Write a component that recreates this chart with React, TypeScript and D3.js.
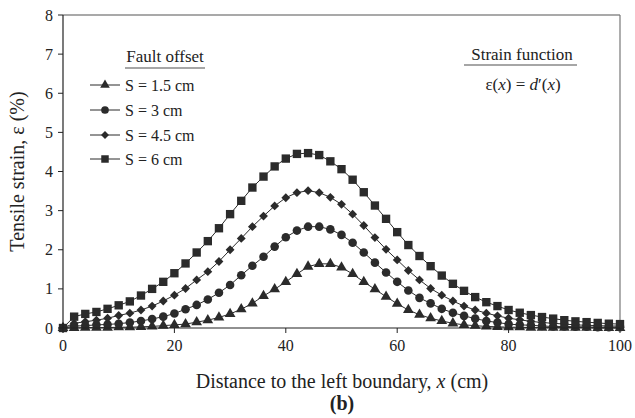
import React from "react";
import * as d3 from "d3";

const xValues = [0,2,4,6,8,10,12,14,16,18,20,22,24,26,28,30,32,34,36,38,40,42,44,46,48,50,52,54,56,58,60,62,64,66,68,70,72,74,76,78,80,82,84,86,88,90,92,94,96,98,100];

const s15 = [0,0.00,0.01,0.01,0.01,0.02,0.02,0.03,0.04,0.06,0.08,0.10,0.15,0.20,0.27,0.36,0.48,0.63,0.82,0.99,1.18,1.38,1.57,1.64,1.64,1.55,1.38,1.18,0.99,0.80,0.62,0.46,0.34,0.25,0.18,0.12,0.08,0.06,0.04,0.03,0.02,0.02,0.01,0.01,0.01,0.01,0.01,0.01,0.00,0.00,0.00];
const s3 = [0,0.05,0.06,0.08,0.09,0.11,0.14,0.18,0.23,0.29,0.37,0.48,0.59,0.73,0.90,1.10,1.35,1.59,1.82,2.08,2.32,2.49,2.59,2.59,2.52,2.38,2.18,1.93,1.67,1.42,1.18,0.96,0.77,0.63,0.49,0.39,0.31,0.24,0.18,0.14,0.10,0.08,0.07,0.05,0.04,0.04,0.03,0.03,0.02,0.02,0.02];
const s45 = [0,0.12,0.16,0.20,0.25,0.32,0.38,0.46,0.56,0.69,0.84,1.01,1.23,1.44,1.70,2.00,2.29,2.59,2.86,3.12,3.33,3.46,3.51,3.46,3.34,3.16,2.91,2.62,2.31,2.01,1.74,1.47,1.23,1.01,0.84,0.69,0.56,0.46,0.38,0.31,0.25,0.21,0.17,0.14,0.12,0.10,0.08,0.07,0.06,0.05,0.05];
const s6 = [0,0.29,0.36,0.41,0.49,0.58,0.68,0.83,1.00,1.18,1.40,1.65,1.93,2.22,2.55,2.91,3.25,3.59,3.87,4.13,4.33,4.45,4.47,4.42,4.26,4.06,3.79,3.47,3.13,2.79,2.45,2.12,1.84,1.58,1.34,1.13,0.95,0.79,0.66,0.56,0.46,0.39,0.33,0.28,0.24,0.20,0.17,0.15,0.13,0.11,0.10];

const seriesLabels = ["S = 1.5 cm", "S = 3 cm", "S = 4.5 cm", "S = 6 cm"];
const seriesValues = [s15, s3, s45, s6];
const xTicks = [0, 20, 40, 60, 80, 100];
const yTicks = [0, 1, 2, 3, 4, 5, 6, 7, 8];

const W = 635, H = 418;
const left = 63, right = 620, top = 15, bottom = 328;
const FONT = "'Liberation Serif', 'Times New Roman', serif";
const INK = "#2b2b2b";

const symbols = [
  { type: d3.symbolTriangle, size: 50 },
  { type: d3.symbolCircle, size: 58 },
  { type: d3.symbolDiamond2, size: 50 },
  { type: d3.symbolSquare, size: 70 },
];

export default function App() {
  const x = d3.scaleLinear().domain([0, 100]).range([left, right]);
  const y = d3.scaleLinear().domain([0, 8]).range([bottom, top]);
  const line = d3.line<number>().x((_, i) => x(xValues[i])).y((v) => y(v));

  const legendX0 = 90, legendX1 = 120, legendTextX = 125;
  const legendYs = [85, 110, 135, 159];

  return (
    <svg width={W} height={H} style={{ position: "absolute", left: 0, top: 0, background: "#fff" }} fontFamily={FONT}>
      {/* frame */}
      <line x1={left} x2={right} y1={top} y2={top} stroke="#555" strokeWidth={1.2} />
      <line x1={right} x2={right} y1={top} y2={bottom} stroke="#777" strokeWidth={1.2} />
      {/* series */}
      {seriesValues.map((vals, si) => {
        const sym = d3.symbol().type(symbols[si].type).size(symbols[si].size)();
        return (
          <g key={si}>
            <path d={line(vals) || ""} fill="none" stroke={INK} strokeWidth={1} />
            {vals.map((v, i) => (
              <path key={i} d={sym || ""} transform={`translate(${x(xValues[i])},${y(v)})`} fill={INK} />
            ))}
          </g>
        );
      })}
      {/* axes */}
      <line x1={left} x2={left} y1={top} y2={bottom} stroke="#222" strokeWidth={1.2} />
      <line x1={left} x2={right} y1={bottom} y2={bottom} stroke="#222" strokeWidth={1.2} />
      {yTicks.map((t) => (
        <g key={t}>
          <line x1={left - 5} x2={left} y1={y(t)} y2={y(t)} stroke="#222" />
          <text x={left - 10} y={y(t)} dy="0.35em" textAnchor="end" fontSize={16} fill="#222">{t}</text>
        </g>
      ))}
      {xTicks.map((t) => (
        <g key={t}>
          <line x1={x(t)} x2={x(t)} y1={bottom} y2={bottom + 5} stroke="#222" />
          <text x={x(t)} y={351} textAnchor="middle" fontSize={16} fill="#222">{t}</text>
        </g>
      ))}
      {/* axis titles */}
      <text transform={`translate(24,${(top + bottom) / 2}) rotate(-90)`} textAnchor="middle" fontSize={20} fill="#222">
        Tensile strain, ε (%)
      </text>
      <text x={342} y={388} textAnchor="middle" fontSize={20} fill="#222">
        Distance to the left boundary, <tspan fontStyle="italic">x</tspan> (cm)
      </text>
      <text x={342} y={410} textAnchor="middle" fontSize={20} fontWeight="bold" fill="#222">(b)</text>
      {/* legend */}
      <text x={165} y={62} textAnchor="middle" fontSize={17} fill="#222">Fault offset</text>
      <line x1={125} x2={205} y1={68} y2={68} stroke="#888" strokeWidth={1.5} />
      {seriesLabels.map((lab, si) => {
        const sym = d3.symbol().type(symbols[si].type).size(symbols[si].size * 0.8)();
        return (
          <g key={lab}>
            <line x1={legendX0} x2={legendX1} y1={legendYs[si]} y2={legendYs[si]} stroke={INK} />
            <path d={sym || ""} transform={`translate(${(legendX0 + legendX1) / 2},${legendYs[si]})`} fill={INK} />
            <text x={legendTextX} y={legendYs[si]} dy="0.35em" fontSize={16} fill="#222">{lab}</text>
          </g>
        );
      })}
      {/* strain function */}
      <text x={522} y={60} textAnchor="middle" fontSize={17} fill="#222">Strain function</text>
      <line x1={464} x2={577} y1={65} y2={65} stroke="#888" strokeWidth={1.5} />
      <text x={523} y={90} textAnchor="middle" fontSize={17} fill="#222">
        ε(<tspan fontStyle="italic">x</tspan>) = <tspan fontStyle="italic">d</tspan>′(<tspan fontStyle="italic">x</tspan>)
      </text>
    </svg>
  );
}
